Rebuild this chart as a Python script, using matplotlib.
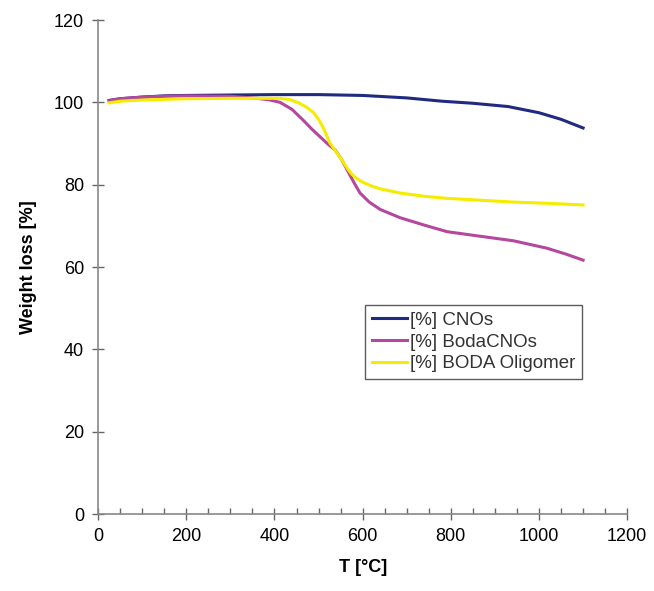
import numpy as np
import matplotlib.pyplot as plt
from matplotlib.ticker import MultipleLocator

plt.rcParams['font.family'] = ['Liberation Sans', 'DejaVu Sans']

# temperature points (°C) and weight (%)
t_cno = [25, 50, 100, 150, 200, 300, 400, 500, 600, 700, 780, 850, 930, 1000, 1050, 1100]
w_cno = [100.5, 100.9, 101.3, 101.6, 101.7, 101.8, 101.9, 101.9, 101.7, 101.1, 100.3, 99.8, 99.0, 97.5, 95.9, 93.8]

t_boda = [25, 50, 100, 150, 200, 300, 360, 390, 413, 440, 465, 485, 504, 520, 538, 552, 565, 580, 594, 615, 640, 685,
          740, 792, 860, 942, 1018, 1060, 1100]
w_boda = [100.4, 100.9, 101.3, 101.5, 101.6, 101.5, 101.0, 100.6, 100.0, 98.3, 95.7, 93.5, 91.6, 90.0, 88.4, 86.2, 83.6, 80.6, 78.0, 75.8, 74.0, 72.0,
          70.2, 68.6, 67.6, 66.4, 64.6, 63.2, 61.7]

t_olig = [25, 50, 100, 200, 300, 413, 435, 455, 472, 488, 500, 510, 526, 540, 553, 565, 575, 588, 601, 620, 640, 685,
          740, 792, 860, 942, 1020, 1100]
w_olig = [99.9, 100.3, 100.6, 100.9, 101.0, 101.0, 100.7, 99.9, 98.9, 97.6, 95.9, 94.0, 90.1, 88.0, 86.0, 84.0, 82.6, 81.4, 80.6, 79.7, 79.0, 78.0,
          77.2, 76.7, 76.3, 75.8, 75.5, 75.1]

fig = plt.figure(figsize=(6.54, 5.91), dpi=100)
ax = fig.add_axes([0.150, 0.130, 0.809, 0.836])

ax.plot(t_cno, w_cno, color='#1f2a80', lw=2.2, label='[%] CNOs')
ax.plot(t_boda, w_boda, color='#b4479e', lw=2.2, label='[%] BodaCNOs')
ax.plot(t_olig, w_olig, color='#f5ec00', lw=2.2, label='[%] BODA Oligomer')

ax.set_xlim(0, 1200)
ax.set_ylim(0, 120)
ax.xaxis.set_major_locator(MultipleLocator(200))
ax.xaxis.set_minor_locator(MultipleLocator(50))
ax.yaxis.set_major_locator(MultipleLocator(20))

for s in ['top', 'right']:
    ax.spines[s].set_visible(False)
for s in ['left', 'bottom']:
    ax.spines[s].set_color('#888888')
    ax.spines[s].set_linewidth(1.2)

ax.tick_params(axis='both', which='major', direction='inout', length=8, width=1, color='#666666',
               labelsize=13, pad=6)
ax.tick_params(axis='x', which='minor', direction='in', length=4, width=1, color='#666666')

ax.set_xlabel('T [°C]', fontsize=13, fontweight='bold', labelpad=10)
ax.set_ylabel('Weight loss [%]', fontsize=13, fontweight='bold', labelpad=12)

leg = ax.legend(loc='upper left', bbox_to_anchor=(0.505, 0.423), fontsize=13.5, frameon=True,
                fancybox=False, handlelength=1.9, handletextpad=0.15, borderpad=0.35,
                labelspacing=0.25, borderaxespad=0)
for txt in leg.get_texts():
    txt.set_color('#333333')
leg.get_frame().set_edgecolor('#333333')
leg.get_frame().set_linewidth(1.0)

fig.savefig('out.png', dpi=100)
